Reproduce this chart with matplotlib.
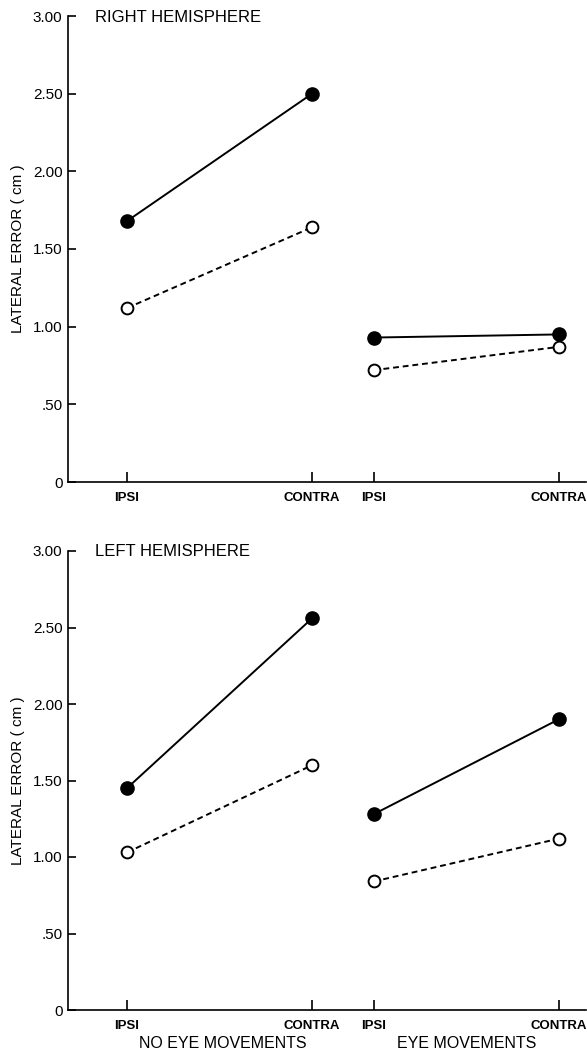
import matplotlib.pyplot as plt
from matplotlib import font_manager

#%% data
conditions = ['IPSI', 'CONTRA', 'IPSI', 'CONTRA']
y_ticks = [0, 0.5, 1.0, 1.5, 2.0, 2.5, 3.0]
y_ticklabels = ['0', '.50', '1.00', '1.50', '2.00', '2.50', '3.00']

# right hemisphere (top panel)
right_filled_no_eye = [1.68, 2.50]
right_open_no_eye = [1.12, 1.64]
right_filled_eye = [0.93, 0.95]
right_open_eye = [0.72, 0.87]

# left hemisphere (bottom panel)
left_filled_no_eye = [1.45, 2.56]
left_open_no_eye = [1.03, 1.60]
left_filled_eye = [1.28, 1.90]
left_open_eye = [0.84, 1.12]

#%% fonts
names = {f.name for f in font_manager.fontManager.ttflist}
narrow = 'Liberation Sans Narrow' if 'Liberation Sans Narrow' in names else 'Liberation Sans'
plt.rcParams['font.family'] = 'Liberation Sans'

# category positions: two IPSI/CONTRA pairs with a small gap between them
x_no_eye = [0, 1]
x_eye = [4 / 3, 7 / 3]
x_ticks = x_no_eye + x_eye

W, H = 587, 1054
fig = plt.figure(figsize=(W / 100, H / 100), dpi=100)


def draw_panel(ax, filled_no, open_no, filled_eye, open_eye, title, title_y):
    for xs, f, o in [(x_no_eye, filled_no, open_no), (x_eye, filled_eye, open_eye)]:
        ax.plot(xs, o, color='black', linewidth=1.4, linestyle=(0, (3, 2)),
                marker='o', markersize=8.5, markerfacecolor='white',
                markeredgecolor='black', markeredgewidth=1.4, zorder=3)
        ax.plot(xs, f, color='black', linewidth=1.4, linestyle='-',
                marker='o', markersize=9.5, markerfacecolor='black',
                markeredgecolor='black', zorder=4)
    ax.set_xlim(-0.319, 2.48)
    ax.set_ylim(0, 3.0)
    for s in ['top', 'right']:
        ax.spines[s].set_visible(False)
    for s in ['left', 'bottom']:
        ax.spines[s].set_linewidth(1.2)
    ax.set_yticks(y_ticks)
    ax.set_yticklabels(y_ticklabels, fontsize=11)
    ax.set_xticks(x_ticks)
    ax.set_xticklabels(conditions, fontsize=9.5, fontweight='bold', family=narrow)
    ax.tick_params(axis='y', direction='in', length=6, width=1.2, pad=4)
    ax.tick_params(axis='x', direction='in', length=7, width=1.2, pad=7)
    ax.set_ylabel('LATERAL ERROR ( cm )', fontsize=11, family=narrow)
    ax.yaxis.set_label_coords(-0.083, 0.5)
    fig.text(95 / W, title_y, title, fontsize=12, va='center', ha='left')


ax1 = fig.add_axes([68 / W, 1 - 482 / H, (586 - 68) / W, 466 / H])
draw_panel(ax1, right_filled_no_eye, right_open_no_eye, right_filled_eye, right_open_eye,
           'RIGHT HEMISPHERE', 1 - 18 / H)

ax2 = fig.add_axes([68 / W, 1 - 1010 / H, (586 - 68) / W, 459 / H])
draw_panel(ax2, left_filled_no_eye, left_open_no_eye, left_filled_eye, left_open_eye,
           'LEFT HEMISPHERE', 1 - 552 / H)

fig.text(223 / W, 1 - 1043 / H, 'NO EYE MOVEMENTS', fontsize=11.5, ha='center', va='center')
fig.text(467 / W, 1 - 1043 / H, 'EYE MOVEMENTS', fontsize=11.5, ha='center', va='center')

fig.savefig('out.png', dpi=100)
